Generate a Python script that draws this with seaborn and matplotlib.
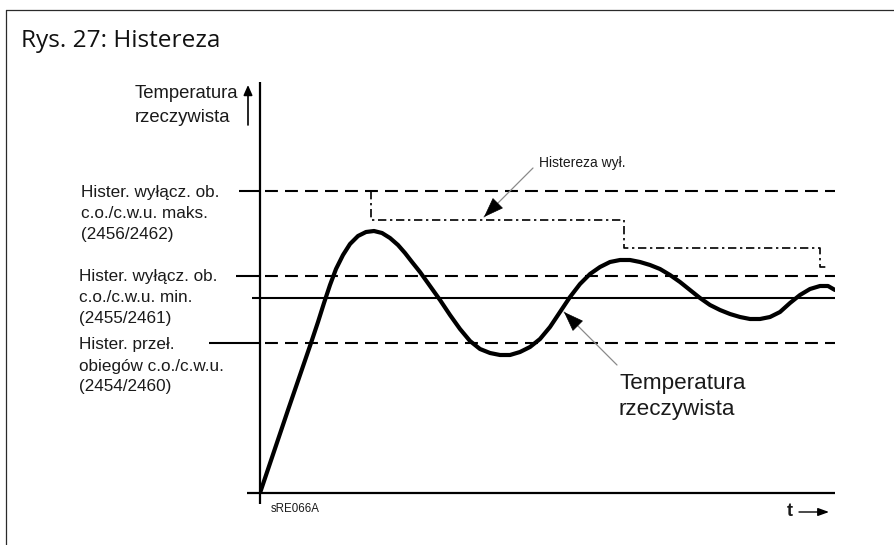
import matplotlib
matplotlib.use("Agg")
import matplotlib.pyplot as plt
from matplotlib.lines import Line2D
import numpy as np
import pandas as pd
import seaborn as sns

# ---- data (time / temperature in arbitrary units) ----
time = [0, 5.6, 10.2, 11.6, 12.8, 14.0, 15.2, 16.6, 18.0, 19.6, 21.2, 22.8,
        24.4, 26.0, 27.6, 29.0, 30.4, 32.0, 34.0, 36.0, 38.0, 40.0, 42.0,
        44.0, 46.0, 48.0, 50.0, 52.0, 54.0, 56.0, 58.0, 60.0, 62.0, 64.0,
        66.0, 68.0, 70.0, 72.0, 74.0, 76.0, 78.0, 80.0, 82.0, 84.0, 86.0,
        88.0, 90.0, 92.0, 94.0, 96.0, 98.0, 100.0, 102.0, 104.0, 106.0,
        108.0, 110.0, 112.0, 113.6, 115.0]
temperature = [0, 16.6, 30.0, 34.2, 38.0, 41.6, 44.8, 47.6, 49.8, 51.4, 52.2,
               52.4, 52.0, 51.0, 49.6, 48.0, 46.2, 44.2, 41.4, 38.6, 35.6,
               32.8, 30.4, 28.8, 28.0, 27.6, 27.6, 28.2, 29.2, 30.8, 33.2,
               36.2, 39.2, 41.8, 43.8, 45.2, 46.2, 46.6, 46.6, 46.2, 45.6,
               44.8, 43.6, 42.2, 40.6, 39.0, 37.6, 36.6, 35.8, 35.2, 34.8,
               34.8, 35.2, 36.2, 38.0, 39.6, 40.8, 41.4, 41.4, 40.6]

# switch-off hysteresis band (stepped)
hyst_time = [22.2, 22.2, 72.8, 72.8, 112, 112, 113.4]
hyst_temp = [60.4, 54.6, 54.6, 49, 49, 45.2, 45.2]

setpoint = 39.0
hyst_max = 60.4      # Hister. wyłącz. ob. c.o./c.w.u. maks.
hyst_min = 43.4      # Hister. wyłącz. ob. c.o./c.w.u. min.
hyst_switch = 30.0   # Hister. przeł. obiegów c.o./c.w.u.

T_MAX = 115.0
Y_MAX = 82.2

label_max = ["Hister. wyłącz. ob.", "c.o./c.w.u. maks.", "(2456/2462)"]
label_min = ["Hister. wyłącz. ob.", "c.o./c.w.u. min.", "(2455/2461)"]
label_sw = ["Hister. przeł.", "obiegów c.o./c.w.u.", "(2454/2460)"]

sns.set_theme(style="white")
plt.rcParams["font.family"] = ["Liberation Sans", "DejaVu Sans"]

W, H = 895, 545
fig = plt.figure(figsize=(W / 100, H / 100), dpi=100)
fig.patch.set_facecolor("white")

ax = fig.add_axes([260 / W, 52 / H, 575 / W, 411 / H])
ax.set_xlim(0, T_MAX)
ax.set_ylim(0, Y_MAX)
ax.axis("off")

# axes lines
ax.plot([-2.6, T_MAX], [0, 0], color="black", lw=1.6, clip_on=False,
        solid_capstyle="butt")
ax.plot([0, 0], [-2.2, Y_MAX], color="black", lw=1.6, clip_on=False,
        solid_capstyle="butt")

# threshold lines: solid stub left of the axis, dashed to the right
dash = (0, (6.2, 3.4))
for yv, x0 in [(hyst_max, -4.2), (hyst_min, -4.8), (hyst_switch, -10.2)]:
    ax.plot([x0, 0], [yv, yv], color="black", lw=1.5, clip_on=False,
            solid_capstyle="butt")
    ax.plot([1.0, T_MAX], [yv, yv], color="black", lw=1.5, linestyle=dash,
            clip_on=False)
ax.plot([-1.6, T_MAX], [setpoint, setpoint], color="black", lw=1.5,
        clip_on=False, solid_capstyle="butt")

# stepped hysteresis
ax.plot(hyst_time, hyst_temp, color="black", lw=1.2,
        linestyle=(0, (5, 2.2, 1.4, 2.2)), clip_on=False)

# actual temperature curve
df = pd.DataFrame({"t": time, "T": temperature})
sns.lineplot(data=df, x="t", y="T", ax=ax, color="black", lw=3,
             sort=False, estimator=None, solid_capstyle="round",
             solid_joinstyle="round")
ax.set_xlabel("")
ax.set_ylabel("")


def px(x, y):
    """figure-pixel position -> data coordinates"""
    return (x - 260) / 5.0, (493 - y) / 5.0


def pointer(tail, tip, head_len=16):
    """grey leader line with a black filled head"""
    tx, ty = px(*tail)
    hx, hy = px(*tip)
    ax.annotate("", xy=(hx, hy), xytext=(tx, ty),
                arrowprops=dict(arrowstyle="-", color="#8a8a8a", lw=0.9,
                                shrinkA=0, shrinkB=0), annotation_clip=False)
    d = np.array(tail, float) - np.array(tip, float)
    d = d / np.hypot(*d) * head_len
    bx, by = px(tip[0] + d[0], tip[1] + d[1])
    ax.annotate("", xy=(hx, hy), xytext=(bx, by),
                arrowprops=dict(arrowstyle="-|>,head_length=1.1,head_width=0.4",
                                color="black", lw=0.5, shrinkA=0, shrinkB=0),
                annotation_clip=False)


pointer((533, 168), (484, 217))
pointer((617, 365), (564, 312))

# annotation texts
txt = dict(color="#1a1a1a", va="center", ha="left", clip_on=False)
ax.text(*px(539, 163), "Histereza wył.", fontsize=10, **txt)
ax.text(*px(619, 384), "Temperatura", fontsize=16.2, **txt)
ax.text(*px(619, 409), "rzeczywista", fontsize=16.2, **txt)

for lines, x0, ys in [(label_max, 81, (193, 213, 234)),
                      (label_min, 79, (277, 298, 319)),
                      (label_sw, 79, (344, 366, 387))]:
    for s, yy in zip(lines, ys):
        ax.text(*px(x0, yy), s, fontsize=12.3, **txt)

# y-axis caption with small arrow
ax.text(*px(135, 94), "Temperatura", fontsize=13.3, **txt)
ax.text(*px(135, 118), "rzeczywista", fontsize=13.3, **txt)
ax.annotate("", xy=px(248, 85), xytext=px(248, 125),
            arrowprops=dict(arrowstyle="-|>,head_length=0.5,head_width=0.22",
                            color="black", lw=1.2, shrinkA=0, shrinkB=0),
            annotation_clip=False)

# time axis label with arrow
ax.text(*px(787, 511), "t", fontsize=13, fontweight="bold", **txt)
ax.annotate("", xy=px(829, 512), xytext=px(799, 512),
            arrowprops=dict(arrowstyle="-|>,head_length=0.55,head_width=0.2",
                            color="black", lw=1.0, shrinkA=0, shrinkB=0),
            annotation_clip=False)

ax.text(*px(271, 509), "sRE066A", fontsize=8.3, **txt)

# figure title and frame
fig.text(21 / W, 1 - 41 / H, "Rys. 27: Histereza", fontsize=17.6,
         family=["Open Sans", "DejaVu Sans"], color="#111111",
         va="center", ha="left")
fig.add_artist(Line2D([6 / W, 6 / W], [0, 1 - 10 / H], color="#2a2a2a",
                      lw=0.9, transform=fig.transFigure))
fig.add_artist(Line2D([6 / W, 1], [1 - 10 / H, 1 - 10 / H], color="#2a2a2a",
                      lw=0.9, transform=fig.transFigure))

fig.savefig("out.png", dpi=100, facecolor="white")
